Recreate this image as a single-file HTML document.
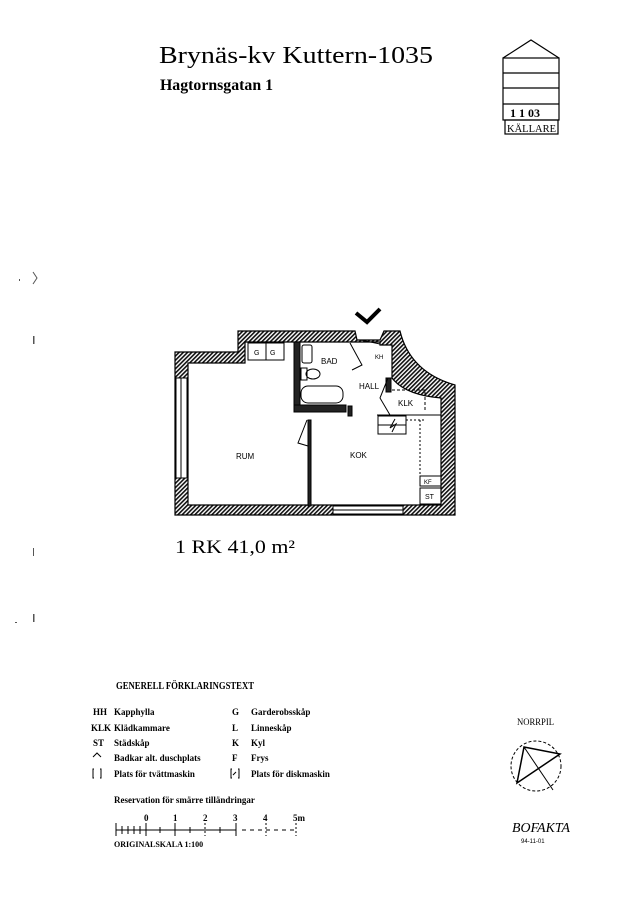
<!DOCTYPE html>
<html><head><meta charset="utf-8"><style>
html,body{margin:0;padding:0;background:#fff;}
svg{display:block}
</style></head><body>
<svg width="636" height="900" viewBox="0 0 636 900" xmlns="http://www.w3.org/2000/svg">
<defs>
<pattern id="h" width="3" height="3" patternUnits="userSpaceOnUse" patternTransform="rotate(45)">
<rect width="3" height="3" fill="#fff"/><rect width="1.6" height="3" fill="#111"/>
</pattern>
</defs>
<rect width="636" height="900" fill="#fff"/>
<text x="159" y="63" font-family="Liberation Serif, serif" font-size="24" fill="#000" textLength="274" lengthAdjust="spacingAndGlyphs">Brynäs-kv Kuttern-1035</text>
<text x="160" y="90" font-family="Liberation Serif, serif" font-size="16" font-weight="bold" fill="#000" textLength="113" lengthAdjust="spacingAndGlyphs">Hagtornsgatan 1</text>
<g stroke="#000" fill="none" stroke-width="1.2">
<polyline points="503,58 531,40 559,58"/>
<rect x="503" y="58" width="56" height="62"/>
<line x1="503" y1="73" x2="559" y2="73"/><line x1="503" y1="88" x2="559" y2="88"/><line x1="503" y1="104" x2="559" y2="104"/>
<rect x="505" y="120" width="53" height="14"/>
</g>
<text x="510" y="117" font-family="Liberation Serif, serif" font-size="12" font-weight="bold">1  1  03</text>
<text x="507" y="132" font-family="Liberation Serif, serif" font-size="11" textLength="49" lengthAdjust="spacingAndGlyphs">KÄLLARE</text>
<g fill="#555"><rect x="19" y="279" width="1" height="2"/><path d="M33 272 L37 278 L33 284" stroke="#555" fill="none"/><rect x="33" y="336" width="1.5" height="8"/><rect x="33" y="548" width="1" height="8"/><rect x="15" y="622" width="2" height="1"/><rect x="33" y="614" width="1.5" height="8"/></g>
<path fill="url(#h)" stroke="#000" stroke-width="1.2" fill-rule="evenodd" d="
M175,352 L238,352 L238,331 L355,331 L357,340 L380,340 L384,331 L400,331 Q410,372 455,385 L455,515 L175,515 Z
M188,363 L245,363 L245,342 L380,342 L380,345 L392,345 L392,378 Q405,395 441,398 L441,505 L188,505 Z"/>
<g stroke="#000" fill="#fff" stroke-width="1">
<rect x="176" y="378" width="11" height="100"/><line x1="181" y1="378" x2="181" y2="478"/>
<rect x="333" y="506" width="70" height="8"/><line x1="333" y1="510" x2="403" y2="510"/>
</g>
<g fill="#222" stroke="#000">
<rect x="294" y="342" width="6" height="70"/>
<rect x="294" y="405" width="52" height="7"/>
<rect x="308" y="420" width="3" height="86"/>
<rect x="348" y="406" width="4" height="10"/>
<rect x="386" y="378" width="5" height="14"/>
</g>
<g stroke="#000" fill="#fff" stroke-width="1">
<rect x="248" y="343" width="36" height="17"/><line x1="266" y1="343" x2="266" y2="360"/>
</g>
<text x="254" y="355" font-family="Liberation Sans, sans-serif" font-size="7">G</text>
<text x="270" y="355" font-family="Liberation Sans, sans-serif" font-size="7">G</text>
<g stroke="#000" fill="none" stroke-width="1">
<rect x="302" y="345" width="10" height="18" rx="2"/>
<rect x="301" y="368" width="6" height="12"/><ellipse cx="313" cy="374" rx="7" ry="5"/>
<rect x="301" y="386" width="42" height="17" rx="7"/>
<path d="M350,343 L362,365 L352,370"/>
<path d="M361,340 L380,344"/>
<path d="M388,378 L380,398 L390,415"/>
<path d="M307,420 L298,443 L308,446"/>
<path d="M392,390 L425,390 L425,412" stroke-dasharray="3,2"/>
<rect x="378" y="416" width="28" height="18"/><line x1="378" y1="425" x2="406" y2="425"/>
<path d="M395,419 L390,428 L396,424 L392,432"/>
<line x1="377" y1="415" x2="441" y2="415"/>
<path d="M406,420 L425,420 M420,420 L420,505" stroke-dasharray="2,2"/>
<rect x="420" y="476" width="21" height="10"/><rect x="420" y="488" width="21" height="16"/>
</g>
<path d="M356,313 L367,322 L380,309" stroke="#000" stroke-width="4" fill="none"/>
<g font-family="Liberation Sans, sans-serif" font-size="8" fill="#000">
<text x="321" y="364">BAD</text>
<text x="359" y="389">HALL</text>
<text x="398" y="406">KLK</text>
<text x="236" y="459">RUM</text>
<text x="350" y="458">KOK</text>
<text x="424" y="484" font-size="6">KF</text>
<text x="425" y="499" font-size="7">ST</text>
<text x="375" y="359" font-size="6">KH</text>
</g>
<text x="175" y="553" font-family="Liberation Serif, serif" font-size="19" textLength="120" lengthAdjust="spacingAndGlyphs">1  RK  41,0  m²</text>
<g font-family="Liberation Serif, serif" font-size="9" font-weight="bold" fill="#000">
<text x="116" y="689" font-size="10" textLength="138" lengthAdjust="spacingAndGlyphs">GENERELL FÖRKLARINGSTEXT</text>
<text x="93" y="715">HH</text><text x="114" y="715">Kapphylla</text>
<text x="91" y="731">KLK</text><text x="114" y="731">Klädkammare</text>
<text x="93" y="746">ST</text><text x="114" y="746">Städskåp</text>
<text x="114" y="761">Badkar alt. duschplats</text>
<text x="114" y="777">Plats för tvättmaskin</text>
<text x="232" y="715">G</text><text x="251" y="715">Garderobsskåp</text>
<text x="232" y="731">L</text><text x="251" y="731">Linneskåp</text>
<text x="232" y="746">K</text><text x="251" y="746">Kyl</text>
<text x="232" y="761">F</text><text x="251" y="761">Frys</text>
<text x="251" y="777">Plats för diskmaskin</text>
<text x="114" y="803">Reservation för smärre tilländringar</text>
<text x="144" y="821">0</text><text x="173" y="821">1</text><text x="203" y="821">2</text><text x="233" y="821">3</text><text x="263" y="821">4</text><text x="293" y="821">5m</text>
<text x="114" y="847" font-size="8">ORIGINALSKALA   1:100</text>
</g>
<g stroke="#000" fill="none" stroke-width="1">
<path d="M93,757 L97,753 L101,757"/>
<path d="M94,769 h-1 v9 h1 M100,769 h1 v9 h-1"/>
<path d="M232,769 h-1 v9 h1 M238,769 h1 v9 h-1 M233,775 l3,-3"/>
<line x1="116" y1="830" x2="236" y2="830"/>
<line x1="116" y1="823" x2="116" y2="836"/><line x1="146" y1="823" x2="146" y2="836"/><line x1="175" y1="823" x2="175" y2="836"/>
<line x1="205" y1="823" x2="205" y2="836" stroke-dasharray="2,2"/><line x1="236" y1="823" x2="236" y2="836"/>
<path d="M122,826 v8 M128,826 v8 M134,826 v8 M140,826 v8 M160,827 v6 M190,827 v6 M220,827 v6"/>
<line x1="242" y1="830" x2="296" y2="830" stroke-dasharray="4,4"/>
<line x1="266" y1="823" x2="266" y2="836" stroke-dasharray="2,2"/><line x1="296" y1="823" x2="296" y2="836" stroke-dasharray="2,2"/>
</g>
<text x="517" y="725" font-family="Liberation Serif, serif" font-size="9" textLength="37" lengthAdjust="spacingAndGlyphs">NORRPIL</text>
<g stroke="#000" fill="none">
<circle cx="536" cy="766" r="25" stroke-dasharray="3,2"/>
<path d="M524,747 L560,754 L517,783 Z" stroke-width="1.5"/>
<path d="M524,747 L553,790" stroke-width="1"/>
</g>
<text x="512" y="832" font-family="Liberation Serif, serif" font-size="14" font-style="italic" textLength="58" lengthAdjust="spacingAndGlyphs">BOFAKTA</text>
<text x="521" y="843" font-family="Liberation Sans, sans-serif" font-size="6">94-11-01</text>
</svg>
</body></html>
